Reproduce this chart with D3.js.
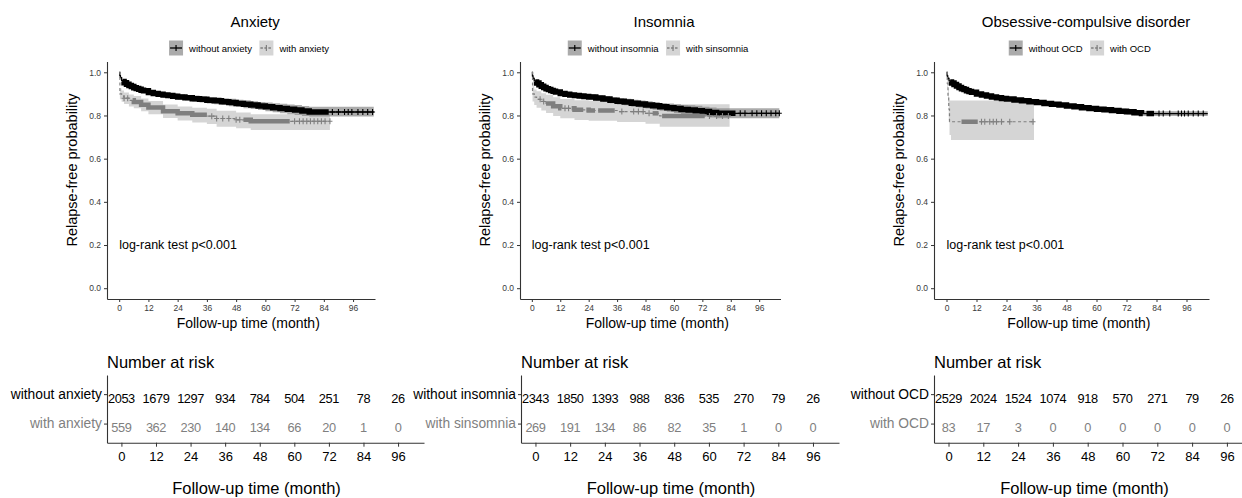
<!DOCTYPE html>
<html>
<head>
<meta charset="utf-8">
<script src="https://cdn.jsdelivr.net/npm/d3@7"></script>
<style>
body{margin:0;background:#fff}
svg{display:block;font-family:"Liberation Sans",Arial,sans-serif}
</style>
</head>
<body>
<svg width="1242" height="498"></svg>
<script>
const monthTicks = [0,12,24,36,48,60,72,84,96];
const probTicks = [0,0.2,0.4,0.6,0.8,1];
const panelTitles = ["Anxiety","Insomnia","Obsessive-compulsive disorder"];
const groupLabels = [["without anxiety","with anxiety"],["without insomnia","with sinsomnia"],["without OCD","with OCD"]];
const pText = "log-rank test p<0.001";

// Kaplan-Meier steps
// the three "without" groups are read on the same time grid
const fineT = [0,0.25,0.5,1,1.5,2,3,4,5,6,7,8,9,10,12,14,16,18,20,22,24,27,30,33,36,39,42,45,48,51,54,57,60,63,66,69,72,75,78,104.5];

const anxNoS  = [1,.985,.975,.963,.957,.952,.945,.939,.934,.929,.925,.921,.917,.914,.907,.902,.898,.895,.892,.889,.886,.882,.878,.875,.871,.868,.864,.86,.856,.852,.848,.844,.84,.836,.832,.829,.825,.821,.816,.816];
const anxNoLo = [1,.98,.969,.956,.95,.944,.937,.93,.925,.92,.915,.911,.907,.903,.896,.891,.886,.883,.88,.876,.873,.869,.864,.86,.856,.852,.848,.843,.839,.834,.83,.825,.82,.815,.81,.806,.802,.798,.795,.795];
const anxNoHi = [1,.99,.981,.97,.964,.96,.953,.948,.943,.938,.935,.931,.927,.925,.918,.913,.91,.907,.904,.902,.899,.895,.892,.89,.886,.884,.88,.877,.873,.87,.866,.863,.86,.857,.854,.851,.848,.844,.84,.84];
const anxYesT  = [0,0.3,1,2,4,6,9,12,18,24,30,36,40,48,54,86.5];
const anxYesS  = [1,0.9,0.89,0.88,0.87,0.862,0.85,0.837,0.82,0.81,0.803,0.797,0.786,0.78,0.773,0.773];
const anxYesLo = [1,0.875,0.864,0.853,0.842,0.833,0.82,0.806,0.788,0.777,0.768,0.761,0.748,0.741,0.733,0.733];
const anxYesHi = [1,0.925,0.916,0.906,0.897,0.89,0.879,0.867,0.851,0.842,0.836,0.831,0.822,0.814,0.806,0.806];

const insNoS  = [1,.983,.972,.96,.955,.95,.942,.935,.93,.924,.92,.916,.912,.909,.902,.898,.895,.892,.89,.888,.886,.881,.876,.871,.866,.862,.857,.853,.849,.845,.84,.836,.832,.828,.825,.822,.818,.814,.81,.81];
const insNoLo = [1,.977,.965,.952,.947,.942,.934,.926,.921,.915,.911,.906,.902,.899,.891,.887,.884,.881,.878,.876,.873,.868,.862,.857,.851,.847,.841,.837,.832,.827,.822,.817,.812,.807,.803,.799,.795,.791,.787,.787];
const insNoHi = [1,.989,.979,.968,.963,.958,.95,.944,.939,.933,.929,.926,.922,.919,.913,.909,.906,.903,.902,.9,.899,.894,.89,.885,.881,.877,.873,.869,.866,.863,.858,.855,.852,.849,.847,.845,.841,.837,.833,.833];
const insYesT  = [0,0.3,1,2,4,6,9,12,18,24,36,48,54,83.5];
const insYesS  = [1,0.9,0.885,0.875,0.865,0.856,0.843,0.833,0.826,0.823,0.818,0.81,0.798,0.798];
const insYesLo = [1,0.865,0.848,0.836,0.823,0.812,0.798,0.787,0.779,0.776,0.77,0.762,0.748,0.748];
const insYesHi = [1,0.935,0.92,0.912,0.903,0.896,0.885,0.876,0.87,0.868,0.864,0.857,0.852,0.852];

const ocdNoS  = [1,.983,.972,.96,.955,.95,.943,.936,.93,.924,.92,.915,.911,.908,.9,.895,.89,.886,.882,.879,.876,.872,.868,.864,.86,.856,.852,.848,.844,.84,.836,.832,.829,.826,.823,.82,.817,.813,.809,.809];
const ocdNoLo = [1,.978,.966,.954,.949,.944,.937,.93,.924,.918,.914,.909,.905,.902,.894,.889,.884,.879,.875,.872,.869,.865,.861,.857,.852,.848,.844,.839,.835,.831,.826,.822,.818,.815,.812,.808,.805,.801,.798,.798];
const ocdNoHi = [1,.988,.978,.966,.961,.956,.949,.942,.936,.93,.926,.921,.917,.914,.906,.901,.896,.893,.889,.886,.883,.879,.875,.871,.868,.864,.86,.857,.853,.849,.846,.842,.84,.837,.834,.832,.829,.825,.82,.82];
const ocdYesT  = [0,0.3,0.6,0.9,1.2,1.8,35];
const ocdYesS  = [1,0.95,0.89,0.83,0.771,0.771,0.771];
const ocdYesLo = [1,0.93,0.86,0.78,0.71,0.687,0.687];
const ocdYesHi = [1,0.97,0.92,0.87,0.869,0.869,0.869];

// censoring: stretches packed with "+" marks, and single marks
const anxNoDense = [[1.5,86]];
const anxNoMarks = [87.5,90,92.5,94,95.5,98,100,102,104];
const anxYesDense = [[5.5,36],[51,70]];
const anxYesMarks = [2,3.5,38,40,42.5,45,48,49.5,72,74,75.5,77,78.5,80,81.5,83,84.5,86.5];
const insNoDense = [[1.5,86]];
const insNoMarks = [88,90,93,95,97,99,101,103,104.5];
const insYesDense = [[6,12.5],[16.8,21.7],[23,26.7],[28,35],[51,53.5],[55,73]];
const insYesMarks = [3.5,5,14,15.5,38,43,45,47,49.5,75,78,80.5,83];
const ocdNoDense = [[1.5,78.5],[80,83]];
const ocdNoMarks = [85,86.7,89.3,92.7,94,95.2,96.7,98.7,100.7,102.7];
const ocdYesDense = [[6,12.5]];
const ocdYesMarks = [14,15.3,17.3,18.7,20,22,25.3,34.6];

// number at risk
const anxRiskNo  = [2053,1679,1297,934,784,504,251,78,26];
const anxRiskYes = [559,362,230,140,134,66,20,1,0];
const insRiskNo  = [2343,1850,1393,988,836,535,270,79,26];
const insRiskYes = [269,191,134,86,82,35,1,0,0];
const ocdRiskNo  = [2529,2024,1524,1074,918,570,271,79,26];
const ocdRiskYes = [83,17,3,0,0,0,0,0,0];

const svg = d3.select("svg");
const black = "#000", grey = "#7f7f7f", axisCol = "#333";

const panels = [
  {plotL:107, plotR:375, tabL:107, tabR:424,
   series:[{t:fineT,s:anxNoS,lo:anxNoLo,hi:anxNoHi,dense:anxNoDense,marks:anxNoMarks,risk:anxRiskNo},
           {t:anxYesT,s:anxYesS,lo:anxYesLo,hi:anxYesHi,dense:anxYesDense,marks:anxYesMarks,risk:anxRiskYes}]},
  {plotL:520, plotR:780.5, tabL:521, tabR:839,
   series:[{t:fineT,s:insNoS,lo:insNoLo,hi:insNoHi,dense:insNoDense,marks:insNoMarks,risk:insRiskNo},
           {t:insYesT,s:insYesS,lo:insYesLo,hi:insYesHi,dense:insYesDense,marks:insYesMarks,risk:insRiskYes}]},
  {plotL:934, plotR:1209, tabL:934, tabR:1253,
   series:[{t:fineT,s:ocdNoS,lo:ocdNoLo,hi:ocdNoHi,dense:ocdNoDense,marks:ocdNoMarks,risk:ocdRiskNo},
           {t:ocdYesT,s:ocdYesS,lo:ocdYesLo,hi:ocdYesHi,dense:ocdYesDense,marks:ocdYesMarks,risk:ocdRiskYes}]}
];
const styles = [
  {color:black, bandOp:0.33, dash:null, w:1.3, denseW:5.5},
  {color:grey, bandOp:0.33, dash:"3,2.5", w:1.2, denseW:4.5}
];

function stepAt(s, u){
  const i = d3.bisectRight(s.t, u) - 1;
  return s.s[Math.max(0, i)];
}
function subPts(s, a, b){
  const pts = [{t:a, s:stepAt(s,a)}];
  s.t.forEach((t,i) => { if (t > a && t < b) pts.push({t, s:s.s[i]}); });
  pts.push({t:b, s:s.s[Math.max(0, d3.bisectLeft(s.t,b)-1)]});
  return pts;
}

function styleAxis(sel, size, col){
  sel.select(".domain").attr("stroke", axisCol).attr("stroke-width", 1.1);
  sel.selectAll(".tick line").attr("stroke", axisCol).attr("stroke-width", 1);
  sel.selectAll(".tick text").attr("font-size", size).attr("fill", col)
    .attr("font-family", '"Liberation Sans",Arial,sans-serif');
}

function drawPanel(p, k){
  const x = d3.scaleLinear().domain([-5,105]).range([p.plotL, p.plotR]);
  const y = d3.scaleLinear().domain([-0.05,1.05]).range([299, 61.5]);
  const g = svg.append("g");
  const area = d3.area().curve(d3.curveStepAfter).x(d => x(d.t)).y0(d => y(d.lo)).y1(d => y(d.hi));
  const line = d3.line().curve(d3.curveStepAfter).x(d => x(d.t)).y(d => y(d.s));

  p.series.forEach((s,i) => {
    const pts = s.t.map((t,j) => ({t, s:s.s[j], lo:s.lo[j], hi:s.hi[j]}));
    g.append("path").attr("d", area(pts)).attr("fill", styles[i].color).attr("fill-opacity", styles[i].bandOp);
  });
  p.series.forEach((s,i) => {
    const st = styles[i];
    const pts = s.t.map((t,j) => ({t, s:s.s[j]}));
    g.append("path").attr("d", line(pts)).attr("fill","none").attr("stroke", st.color)
      .attr("stroke-width", st.w).attr("stroke-dasharray", st.dash);
    s.dense.forEach(r => {
      g.append("path").attr("d", line(subPts(s, r[0], r[1]))).attr("fill","none")
        .attr("stroke", st.color).attr("stroke-width", st.denseW);
    });
    g.selectAll(null).data(s.marks).join("path")
      .attr("d", t => { const cx = x(t), cy = y(stepAt(s,t)); return `M${cx-2.5},${cy}h5M${cx},${cy-3}v6`; })
      .attr("stroke", st.color).attr("stroke-width", 1.1).attr("fill","none");
  });

  // axes
  const ya = g.append("g").attr("transform", `translate(${p.plotL},0)`)
    .call(d3.axisLeft(y).tickValues(probTicks).tickFormat(d3.format(".1f")).tickSize(3).tickSizeOuter(0));
  styleAxis(ya, 8.5, "#3a3a3a");
  const xa = g.append("g").attr("transform", "translate(0,299)")
    .call(d3.axisBottom(x).tickValues(monthTicks).tickSize(3).tickSizeOuter(0));
  styleAxis(xa, 8.5, "#3a3a3a");

  const w = p.plotR - p.plotL;
  g.append("text").attr("x", p.plotL + 0.553*w).attr("y", 21).attr("text-anchor","middle")
    .attr("dominant-baseline","central").attr("font-size", 15).text(panelTitles[k]);
  g.append("text").attr("x", p.plotL + 0.527*w).attr("y", 323).attr("text-anchor","middle")
    .attr("dominant-baseline","central").attr("font-size", 14).text("Follow-up time (month)");
  g.append("text").attr("transform", `translate(${p.plotL-35.5},170) rotate(-90)`).attr("text-anchor","middle")
    .attr("dominant-baseline","central").attr("font-size", 14.5).text("Relapse-free probability");
  g.append("text").attr("x", x(0)).attr("y", y(0.2)).attr("dominant-baseline","central")
    .attr("font-size", 12.5).text(pText);

  // legend
  const lg = g.append("g");
  let cur = 0;
  groupLabels[k].forEach((lab,i) => {
    const st = styles[i];
    const it = lg.append("g").attr("transform", `translate(${cur},0)`);
    it.append("rect").attr("x",0).attr("y",-7.5).attr("width",14).attr("height",15)
      .attr("fill", st.color).attr("fill-opacity", st.bandOp);
    it.append("path").attr("d","M1,0h12").attr("stroke", st.color).attr("stroke-width",1.3)
      .attr("stroke-dasharray", st.dash ? "2.5,1.5" : null);
    it.append("path").attr("d","M7,-3v6").attr("stroke", st.color).attr("stroke-width",1.2);
    const tx = it.append("text").attr("x",20).attr("dominant-baseline","central")
      .attr("font-size", 9.5).text(lab);
    cur += 20 + tx.node().getComputedTextLength() + 7.5;
  });
  const lw = cur - 7.5;
  lg.attr("transform", `translate(${p.plotL + 0.53*w - lw/2},48)`);

  // risk table
  const tx = d3.scaleLinear().domain([-5,105]).range([p.tabL, p.tabR]);
  const ty = d3.scalePoint().domain(groupLabels[k]).range([375, 442.7]).padding(0.65);
  const tg = svg.append("g");
  tg.append("text").attr("x", p.tabL).attr("y", 362).attr("dominant-baseline","central")
    .attr("font-size", 16.5).text("Number at risk");
  const tya = tg.append("g").attr("transform", `translate(${p.tabL},0)`)
    .call(d3.axisLeft(ty).tickSize(3).tickSizeOuter(0).tickPadding(2));
  styleAxis(tya, 13.8, black);
  tya.selectAll(".tick text").attr("fill", (d,i) => i === 0 ? black : grey);
  const txa = tg.append("g").attr("transform", "translate(0,442.7)")
    .call(d3.axisBottom(tx).tickValues(monthTicks).tickSize(4).tickSizeOuter(0).tickPadding(5));
  styleAxis(txa, 13, black);
  p.series.forEach((s,i) => {
    tg.selectAll(null).data(monthTicks).join("text")
      .attr("x", m => tx(m)).attr("y", ty(groupLabels[k][i]) + 4)
      .attr("text-anchor","middle").attr("dominant-baseline","central")
      .attr("font-size", 12.8).attr("letter-spacing", -0.4).attr("fill", styles[i].color)
      .text((m,j) => s.risk[j]);
  });
  tg.append("text").attr("x", (p.tabL + p.tabR)/2 - 9).attr("y", 488).attr("text-anchor","middle")
    .attr("dominant-baseline","central").attr("font-size", 16.5).text("Follow-up time (month)");
}

panels.forEach(drawPanel);
</script>
</body>
</html>
